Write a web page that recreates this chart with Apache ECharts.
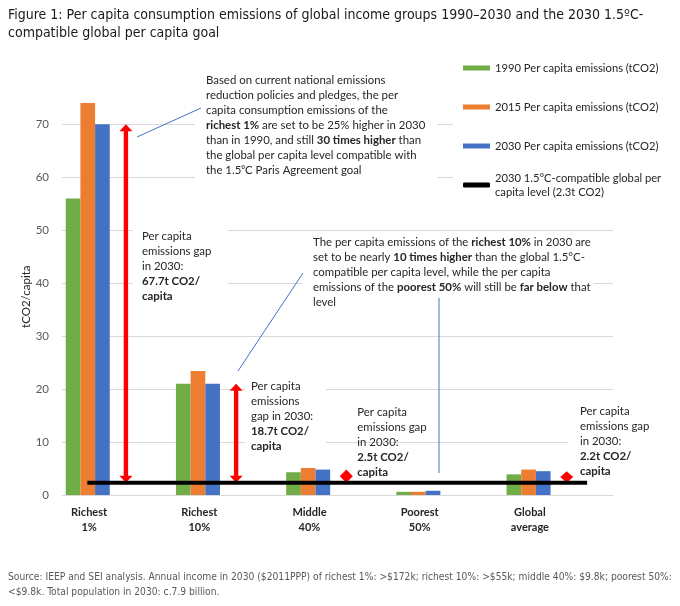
<!DOCTYPE html>
<html>
<head>
<meta charset="utf-8">
<title>Per capita consumption emissions</title>
<script src="https://cdn.jsdelivr.net/npm/echarts@6/dist/echarts.min.js"></script>
<style>
  html, body { margin: 0; padding: 0; background: #fff; }
  #chart { width: 680px; height: 606px; }
</style>
</head>
<body>
<div id="chart"></div>
<script>
// data (tCO2 per capita)
var groups = ['Richest\n1%', 'Richest\n10%', 'Middle\n40%', 'Poorest\n50%', 'Global\naverage'];
var emissions1990 = [56, 21, 4.3, 0.6, 3.9];
var emissions2015 = [74, 23.4, 5.1, 0.6, 4.8];
var emissions2030 = [70, 21, 4.8, 0.8, 4.5];
var goalLevel = 2.3;
var gapGroups = [0, 1, 2, 4];   // groups that get a red gap arrow
var yTickRange = [0, 70, 10];   // min, max, interval

var seriesNames = [
    '1990 Per capita emissions (tCO2)',
    '2015 Per capita emissions (tCO2)',
    '2030 Per capita emissions (tCO2)'
];
var goalName = '2030 1.5°C-compatible global per capita level (2.3t CO2)';

var annoFont = 'Lato, "Noto Sans", sans-serif',
    narrowFont = '"Liberation Sans Narrow", "DejaVu Sans Condensed", sans-serif',
    textColor = '#262626',
    leaderColor = '#4472C4',
    annoSize = 11.4;

var chart = echarts.init(document.getElementById('chart'));

function barSeries(name, data, color){
    return {
        type: 'bar',
        name: name,
        data: data,
        clip: false,
        barGap: '0%',
        barCategoryGap: '6.8%',
        itemStyle: { color: color },
        z: 2
    };
}

// excel left room for 4 more (empty) series in each cluster
function padSeries(i){
    return {
        type: 'bar',
        name: '_pad' + i,
        data: groups.map(function(){ return null; }),
        silent: true,
        barGap: '0%',
        barCategoryGap: '6.8%',
        itemStyle: { color: 'transparent' }
    };
}

function note(left, top, lines, padding, bg){
    return {
        type: 'text',
        left: left,
        top: top,
        z: 1,
        style: {
            text: lines.join('\n'),
            fontFamily: annoFont,
            fontSize: annoSize,
            lineHeight: 15,
            fill: textColor,
            backgroundColor: bg ? '#fff' : null,
            padding: padding,
            rich: {
                b: { fontFamily: annoFont, fontSize: annoSize, lineHeight: 15, fontWeight: 'bold', fill: textColor }
            }
        }
    };
}

function leader(x1, y1, x2, y2){
    return {
        type: 'line',
        z: 1,
        shape: { x1: x1, y1: y1, x2: x2, y2: y2 },
        style: { stroke: leaderColor, lineWidth: 1 }
    };
}

var series = [
    barSeries(seriesNames[0], emissions1990, '#70AD47'),
    barSeries(seriesNames[1], emissions2015, '#ED7D31'),
    barSeries(seriesNames[2], emissions2030, '#4472C4'),
    padSeries(1), padSeries(2), padSeries(3), padSeries(4),
    {
        type: 'custom',
        name: 'gap',
        silent: true,
        z: 4,
        data: gapGroups.map(function(i){ return [i, goalLevel, emissions2030[i]]; }),
        encode: { x: 0, y: [1, 2] },
        renderItem: function(params, api){
            var band = api.size([1, 0])[0],
                bottom = api.coord([api.value(0), api.value(1)]),
                top = api.coord([api.value(0), api.value(2)]),
                x = bottom[0] + band * 0.08,
                y1 = top[1],
                y2 = bottom[1],
                head = Math.min(7, (y2 - y1) / 2),
                hw = 6.5,
                sw = 2.2;
            return {
                type: 'polygon',
                shape: { points: [
                    [x, y1], [x + hw, y1 + head], [x + sw, y1 + head], [x + sw, y2 - head],
                    [x + hw, y2 - head], [x, y2], [x - hw, y2 - head], [x - sw, y2 - head],
                    [x - sw, y1 + head], [x - hw, y1 + head]
                ] },
                style: { fill: '#FF0000' }
            };
        }
    },
    {
        type: 'custom',
        name: goalName,
        silent: true,
        z: 5,
        itemStyle: { color: '#000' },
        data: [[0, goalLevel, groups.length - 1]],
        encode: { x: [0, 2], y: 1 },
        renderItem: function(params, api){
            var band = api.size([1, 0])[0],
                a = api.coord([api.value(0), api.value(1)]),
                b = api.coord([api.value(2), api.value(1)]);
            return {
                type: 'line',
                shape: { x1: a[0] - band * 0.27, y1: a[1], x2: b[0] + band * 0.265, y2: b[1] },
                style: { stroke: '#000', lineWidth: 4 }
            };
        }
    }
];

var option = {
    animation: false,
    title: [{
        text: 'Figure 1: Per capita consumption emissions of global income groups 1990–2030 and the 2030 1.5ºC-\ncompatible global per capita goal',
        left: 8,
        top: 6,
        padding: 0,
        textStyle: { fontFamily: narrowFont, fontSize: 14, lineHeight: 18, fontWeight: 'normal', color: '#1a1a1a' }
    }, {
        text: 'Source: IEEP and SEI analysis. Annual income in 2030 ($2011PPP) of richest 1%: >$172k; richest 10%: >$55k; middle 40%: $9.8k; poorest 50%:\n<$9.8k. Total population in 2030: c.7.9 billion.',
        left: 8,
        top: 570,
        padding: 0,
        textStyle: { fontFamily: narrowFont, fontSize: 10.2, lineHeight: 15, fontWeight: 'normal', color: '#595959' }
    }],
    legend: [{
        orient: 'vertical',
        left: 453,
        top: 55,
        padding: [6, 20, 6, 10],
        backgroundColor: '#fff',
        data: seriesNames,
        icon: 'rect',
        itemWidth: 27,
        itemHeight: 5,
        itemGap: 25,
        selectedMode: false,
        textStyle: { fontFamily: annoFont, fontSize: 11.2, lineHeight: 14, color: textColor }
    }, {
        orient: 'vertical',
        left: 453,
        top: 160,
        padding: [4, 20, 6, 10],
        backgroundColor: '#fff',
        data: [goalName],
        icon: 'roundRect',
        itemWidth: 27,
        itemHeight: 5,
        selectedMode: false,
        formatter: function(){ return '2030 1.5°C-compatible global per\ncapita level (2.3t CO2)'; },
        textStyle: { fontFamily: annoFont, fontSize: 11.2, lineHeight: 14, color: textColor, padding: [14, 0, 0, 0] }
    }],
    grid: { left: 62, right: 67, top: 124.3, bottom: 111 },
    xAxis: {
        type: 'category',
        data: groups,
        axisLine: { lineStyle: { color: '#D9D9D9' } },
        axisTick: { show: false },
        axisLabel: {
            interval: 0,
            margin: 10,
            padding: [0, 56, 0, 0],
            fontFamily: annoFont,
            fontSize: 11,
            lineHeight: 15,
            fontWeight: 'bold',
            color: textColor
        }
    },
    yAxis: {
        type: 'value',
        min: yTickRange[0],
        max: yTickRange[1],
        interval: yTickRange[2],
        axisLine: { show: false },
        axisTick: { show: false },
        axisLabel: { margin: 13, fontFamily: annoFont, fontSize: 11.5, color: '#595959' },
        splitLine: { lineStyle: { color: '#D9D9D9' } }
    },
    series: series,
    graphic: [
        {
            type: 'text',
            x: 26.7,
            y: 296.7,
            rotation: Math.PI / 2,
            style: {
                text: 'tCO2/capita',
                align: 'center',
                verticalAlign: 'middle',
                fontFamily: annoFont,
                fontSize: 11.5,
                fill: textColor
            }
        },
        note(195, 68.5, [
            'Based on current national emissions',
            'reduction policies and pledges, the per',
            'capita consumption emissions of the',
            '{b|richest 1%} are set to be 25% higher in 2030',
            'than in 1990, and still {b|30 times higher} than',
            'the global per capita level compatible with',
            'the 1.5⁰C Paris Agreement goal'
        ], [4, 12, 4, 11], true),
        note(302, 231.8, [
            'The per capita emissions of the {b|richest 10%} in 2030 are',
            'set to be nearly {b|10 times higher} than the global 1.5°C-',
            'compatible per capita level, while the per capita',
            'emissions of the {b|poorest 50%} will still be {b|far below} that',
            'level'
        ], [3, 3, 3, 11], true),
        note(133, 225.2, ['Per capita', 'emissions gap', 'in 2030:', '{b|67.7t CO2/}', '{b|capita}'], [4, 16, 4, 9], true),
        note(245, 374.5, ['Per capita', 'emissions', 'gap in 2030:', '{b|18.7t CO2/}', '{b|capita}'], [4, 13, 4, 6], true),
        note(357.3, 404.8, ['Per capita', 'emissions gap', 'in 2030:', '{b|2.5t CO2/}', '{b|capita}'], 0, false),
        note(568, 400.2, ['Per capita', 'emissions gap', 'in 2030:', '{b|2.2t CO2/}', '{b|capita}'], [4, 10, 4, 12], true),
        leader(201, 108, 137, 137),
        leader(303, 273, 238, 371),
        leader(439, 298, 439, 473)
    ]
};

chart.setOption(option);
</script>
</body>
</html>
